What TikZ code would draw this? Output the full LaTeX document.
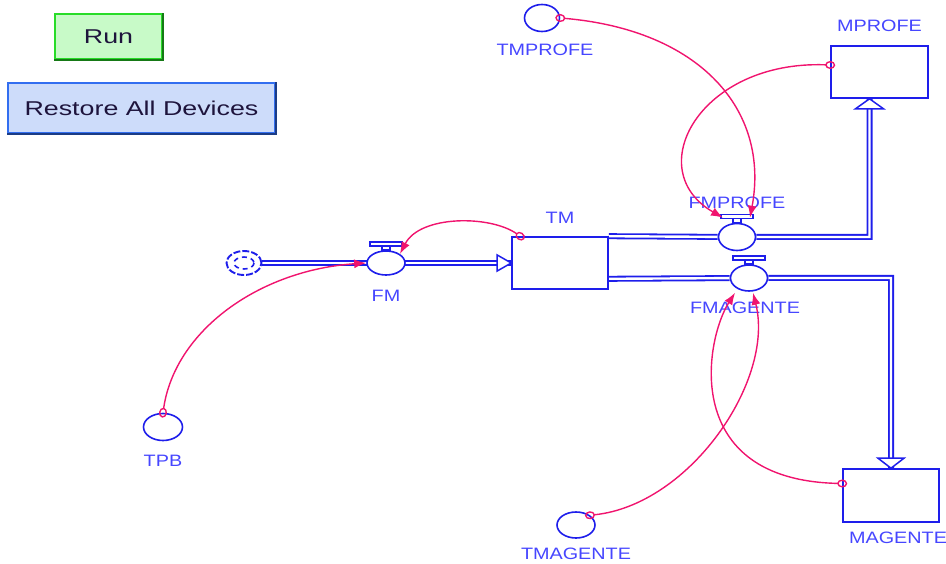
\documentclass[tikz,border=0pt]{standalone}
\usepackage{fontspec}
\newfontfamily\lblfont[FakeStretch=1.2]{Liberation Sans}
\newfontfamily\btnfont[FakeStretch=1.34]{Liberation Sans}
\usetikzlibrary{arrows.meta,shapes.geometric}
\pgfdeclarelayer{bg}
\pgfsetlayers{bg,main}

\definecolor{flowblue}{RGB}{30,30,235}
\definecolor{lblblue}{RGB}{70,70,255}
\definecolor{linkpink}{RGB}{240,20,110}
\definecolor{runfill}{RGB}{200,250,200}
\definecolor{runedge}{RGB}{40,220,40}
\definecolor{resfill}{RGB}{205,220,250}
\definecolor{resedge}{RGB}{50,110,240}
\definecolor{btntext}{RGB}{30,20,60}

\tikzset{
    stock/.style={draw=flowblue, fill=white, line width=1.6pt, minimum width=96pt, minimum height=52pt, inner sep=0pt},
    aux/.style={ellipse, draw=flowblue, fill=white, line width=1.6pt, minimum width=37pt, minimum height=27pt, inner sep=0pt},
    lbl/.style={text=lblblue, font=\lblfont\fontsize{16.5}{18}\selectfont, inner sep=0pt},
    btn/.style={text=btntext, font=\btnfont\fontsize{20}{22}\selectfont, line width=1.6pt, inner sep=0pt},
    pipe/.style={draw=flowblue, double=white, double distance=2.4pt, line width=1.8pt},
    head/.style={draw=flowblue, fill=white, line width=1.5pt, line join=miter},
    link/.style={draw=linkpink, line width=1.4pt, shorten <=-5pt,
        {Circle[open,length=10pt,width=8pt]}-{Latex[length=12pt,width=9pt]}}
}

% valve handle on top of a flow
\newcommand{\valvecap}[1]{%
    \draw[head] ([xshift=-4pt]#1.north) rectangle ++(8,-4);
    \draw[head] ([xshift=-16pt,yshift=4pt]#1.north) rectangle ++(32,-4);
}

\begin{document}
\begin{tikzpicture}[x=1pt, y=-1pt]
    \useasboundingbox (0,0) rectangle (946,564);

    \node (run) [btn, fill=runfill, draw=runedge, minimum width=107pt, minimum height=45pt] at (108.5,36.5) {Run};
    \node (restore) [btn, fill=resfill, draw=resedge, minimum width=267pt, minimum height=50pt] at (141.5,108) {Restore All Devices};
    \draw[runedge!55!black, line width=1.6pt] (run.north east) -- (run.south east) -- (run.south west);
    \draw[resedge!55!black, line width=1.6pt] (restore.north east) -- (restore.south east) -- (restore.south west);

    \node (src) [ellipse, draw=flowblue, line width=1.9pt, dash pattern=on 7pt off 2pt, minimum width=35pt, minimum height=24pt, inner sep=0pt] at (244,263) {};
    \draw[flowblue, line width=1.6pt, dash pattern=on 5pt off 4pt] (src) ellipse (10 and 6);

    \node (tm) [stock, label={[lbl,yshift=12pt]above:TM}] at (560,263) {};
    \node (mprofe) [stock, minimum width=97pt, label={[lbl,yshift=13pt]above:MPROFE}] at (879.5,72) {};
    \node (magente) [stock, minimum height=53pt, label={[lbl,xshift=7pt,yshift=-9pt]below:MAGENTE}] at (891,495.5) {};

    \node (fm) [aux, minimum width=38pt, minimum height=24pt, label={[lbl,yshift=-14pt]below:FM}] at (386,263) {};
    \node (fmprofe) [aux, label={[lbl,yshift=14pt]above:FMPROFE}] at (737,237) {};
    \node (fmagente) [aux, minimum height=26pt, label={[lbl,xshift=-4pt,yshift=-10pt]below:FMAGENTE}] at (749,278) {};

    \node (tmprofe) [aux, minimum width=35pt, label={[lbl,xshift=3pt,yshift=-11pt]below:TMPROFE}] at (542,18) {};
    \node (tpb) [aux, minimum width=39pt, label={[lbl,yshift=-14pt]below:TPB}] at (163,427) {};
    \node (tmagente) [aux, minimum width=38pt, minimum height=26pt, label={[lbl,yshift=-9pt]below:TMAGENTE}] at (576,525) {};

    \valvecap{fm}
    \valvecap{fmprofe}
    \valvecap{fmagente}

    \begin{pgfonlayer}{bg}
        \draw[pipe] (src.east) -- (tm.west);
        \draw[pipe] (tm.north east) -- (fmprofe) -| ([xshift=-10pt]mprofe.south);
        \draw[pipe] ([yshift=11pt]tm.south east) -- (fmagente) -| (magente.north);
    \end{pgfonlayer}

    \draw[head] (tm.west) -- ++(-14,-8) -- ++(0,16) -- cycle;
    \draw[head] ([xshift=-10pt]mprofe.south) -- ++(-14,10) -- ++(28,0) -- cycle;
    \draw[head] (magente.north) -- ++(-13,-10) -- ++(26,0) -- cycle;

    \draw[link] (tpb.north) .. controls (175,330) and (260,270) .. (fm.west);
    \draw[link] ([xshift=9pt]tm.north west) .. controls (490,215) and (420,215) .. (fm.north east);
    \draw[link] (tmprofe.east) .. controls (700,30) and (770,110) .. ([xshift=13pt,yshift=5pt]fmprofe.north);
    \draw[link] ([yshift=7pt]mprofe.west) .. controls (700,60) and (640,170) .. ([xshift=-14pt,yshift=5pt]fmprofe.north);
    \draw[link] (tmagente.north east) .. controls (690,505) and (775,380) .. ([xshift=4pt,yshift=-1pt]fmagente.south);
    \draw[link] ([yshift=12pt]magente.west) .. controls (680,480) and (705,340) .. ([xshift=-14pt,yshift=-1pt]fmagente.south);
\end{tikzpicture}
\end{document}
